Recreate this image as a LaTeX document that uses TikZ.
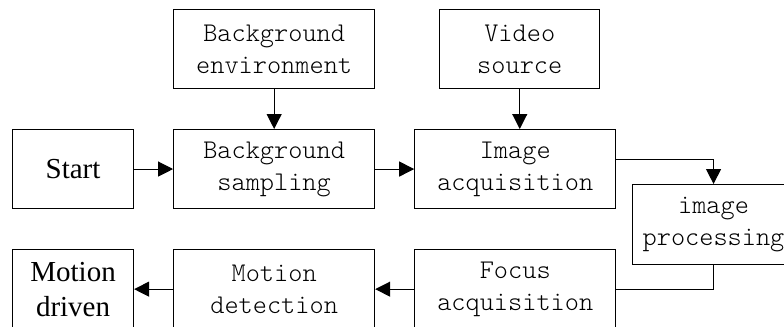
\documentclass[tikz,border=0pt]{standalone}
\usepackage{fontspec}
\usepackage{tikz}
\usetikzlibrary{positioning, arrows.meta}
\newfontfamily\timesfont{Liberation Serif}
\newfontfamily\lightmono{Latin Modern Mono Light}
\definecolor{lineC}{HTML}{000000}

\begin{document}
\begin{tikzpicture}[x=0.5pt, y=-0.5pt, line width=0.55pt,
  blk/.style={draw=lineC, minimum height=39.5pt, minimum width=100.5pt, inner sep=0pt, align=center, font=\fontsize{13.5}{16}\selectfont\lightmono},
  endblk/.style={blk, minimum width=60.5pt, font=\fontsize{14.5}{17.5}\selectfont\timesfont},
  arr/.style={-{Triangle[length=7.5pt, width=7.5pt]}}]
\useasboundingbox (0,0) rectangle (784,327);
\fill[white] (0,0) rectangle (784,327);
\clip (0,0) rectangle (784,327);
% top row
\node[endblk, anchor=north west] (start) at (12,129) {Start};
\node[blk, right=19.5pt of start] (bgsamp) {Background\\sampling};
\node[blk, right=19.5pt of bgsamp] (imgacq) {Image\\acquisition};
\node[blk, above=20pt of bgsamp] (bgenv) {Background\\environment};
\node[blk, minimum width=80pt, above=20pt of imgacq, xshift=2.25pt] (vidsrc) {Video\\source};
\node[blk, minimum width=81pt, minimum height=40pt, anchor=north west] (imgproc) at (632,184) {image\\processing};
% bottom row
\node[endblk, below=20pt of start] (motdrv) {Motion\\driven};
\node[blk, below=20pt of bgsamp] (motdet) {Motion\\detection};
\node[blk, below=20pt of imgacq] (focacq) {Focus\\acquisition};
% connectors
\draw[arr] (start) -- (bgsamp);
\draw[arr] (bgsamp) -- (imgacq);
\draw[arr] (bgenv) -- (bgsamp);
\draw[arr] (vidsrc) -- (vidsrc |- imgacq.north);
\draw[arr] ([yshift=4.75pt]imgacq.east) -| (imgproc);
\draw (imgproc) |- (focacq);
\draw[arr] (focacq) -- (motdet);
\draw[arr] (motdet) -- (motdrv);
\end{tikzpicture}
\end{document}
